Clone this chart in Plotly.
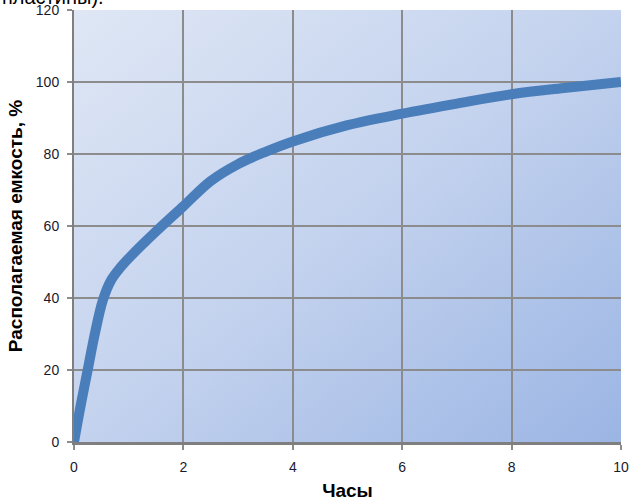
import base64
import plotly.graph_objects as go

# Discharge time (hours) vs available capacity (%)
hours = [0, 0.12, 0.25, 0.38, 0.53, 0.68, 0.85, 1.03, 1.5, 2, 2.5, 3, 3.5, 4, 5, 6, 7, 8, 9, 10]
capacity = [0, 10, 20, 30, 39.5, 45, 48.5, 51.5, 58.5, 65.5, 72.5, 77.2, 80.6, 83.5, 88, 91.2, 94, 96.6, 98.4, 100]

x_ticks = [0, 2, 4, 6, 8, 10]
y_ticks = [0, 20, 40, 60, 80, 100, 120]

# Diagonal light-to-blue gradient for the plotting area
svg = (
    '<svg xmlns="http://www.w3.org/2000/svg" width="100" height="100" preserveAspectRatio="none">'
    '<defs><linearGradient id="g" x1="0" y1="0" x2="1" y2="1">'
    '<stop offset="0" stop-color="#dfe7f5"/>'
    '<stop offset="0.5" stop-color="#c3d2ee"/>'
    '<stop offset="1" stop-color="#9bb5e4"/>'
    '</linearGradient></defs>'
    '<rect width="100" height="100" fill="url(#g)"/></svg>'
)
bg_uri = "data:image/svg+xml;base64," + base64.b64encode(svg.encode()).decode()

fig = go.Figure()
fig.add_trace(go.Scatter(
    x=hours, y=capacity, mode="lines",
    line=dict(color="#4a7ebb", width=10, shape="spline", smoothing=1.0),
    hoverinfo="skip", showlegend=False,
))

fig.add_layout_image(
    source=bg_uri, xref="paper", yref="paper", x=0, y=1,
    sizex=1, sizey=1, xanchor="left", yanchor="top",
    sizing="stretch", layer="below",
)

grid = "#8c8c8c"
tick_font = dict(family="Liberation Sans, Arial, sans-serif", size=14, color="#1a1a2e")
title_font = dict(family="Liberation Sans, Arial, sans-serif", size=19, color="black")

fig.update_layout(
    width=631, height=502,
    margin=dict(l=74, r=10, t=10, b=60),
    paper_bgcolor="white",
    plot_bgcolor="rgba(0,0,0,0)",
    showlegend=False,
    xaxis=dict(
        range=[0, 10], tickvals=x_ticks, ticktext=[str(v) for v in x_ticks],
        showgrid=True, gridcolor=grid, gridwidth=1.5,
        showline=True, linecolor="#7f7f7f", linewidth=2.5,
        ticks="outside", ticklen=5, tickcolor=grid, tickwidth=1.5,
        ticklabelstandoff=5, tickfont=tick_font, zeroline=False, automargin=False,
        title=dict(text="<b>Часы</b>", font=title_font, standoff=11),
    ),
    yaxis=dict(
        range=[0, 120], tickvals=y_ticks, ticktext=[str(v) for v in y_ticks],
        showgrid=True, gridcolor=grid, gridwidth=1.5,
        showline=True, linecolor="#7f7f7f", linewidth=2,
        ticks="outside", ticklen=5, tickcolor=grid, tickwidth=1.5,
        ticklabelstandoff=5, tickfont=tick_font, zeroline=False, automargin=False,
        title=dict(text="<b>Располагаемая емкость, %</b>", font=title_font, standoff=8),
    ),
    annotations=[dict(
        text="пластины).", xref="paper", yref="paper",
        x=-74 / 547, y=1 + 13 / 432, xanchor="left", yanchor="middle",
        showarrow=False, font=dict(family="Liberation Sans, Arial, sans-serif", size=20, color="black"),
    )],
)

fig.write_html("out.html")
